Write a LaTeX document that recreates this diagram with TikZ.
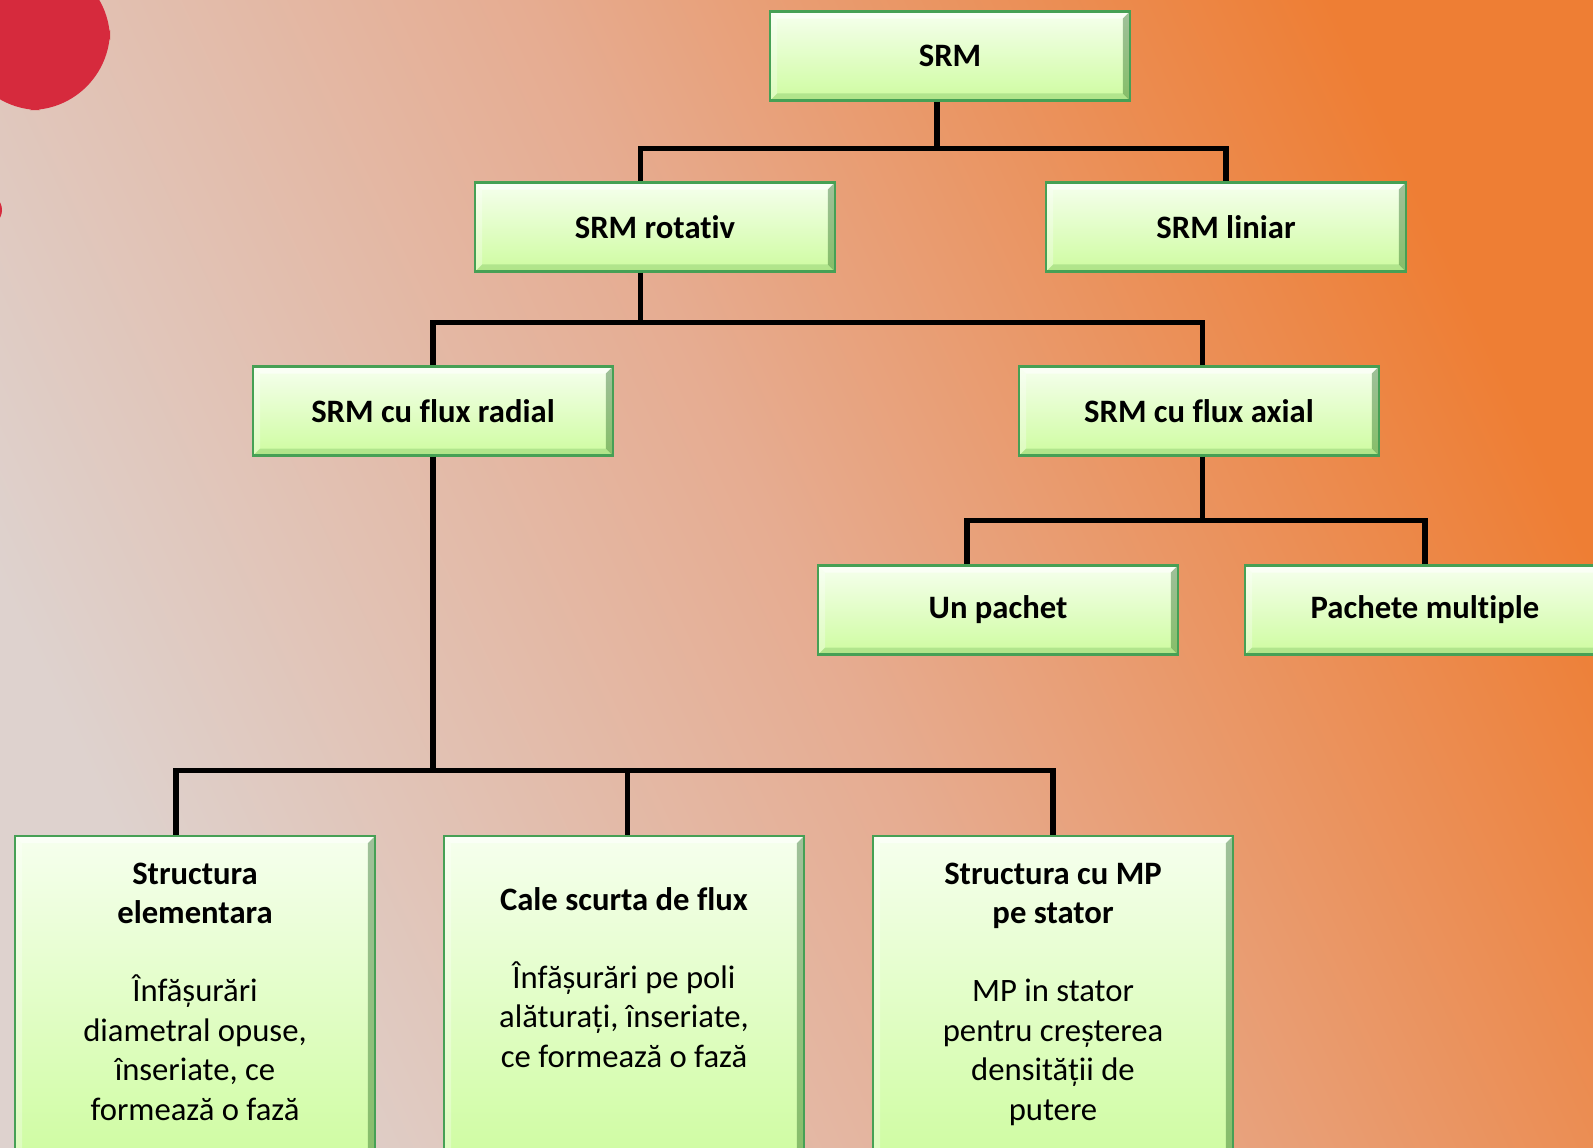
\documentclass[tikz,border=0pt]{standalone}
\usepackage{fontspec}
\setmainfont{Carlito}[Ligatures=NoCommon]

\definecolor{boxtop}{RGB}{246,255,238}
\definecolor{boxbot}{RGB}{206,252,160}
\definecolor{boxline}{RGB}{70,160,85}
\definecolor{bgleft}{RGB}{222,210,206}
\definecolor{bgmid}{RGB}{230,172,145}
\definecolor{bgright}{RGB}{238,126,52}
\definecolor{dotred}{RGB}{214,42,61}

\pgfdeclarehorizontalshading{slide}{100bp}{color(0bp)=(bgleft); color(25bp)=(bgleft);
  color(50bp)=(bgmid); color(75bp)=(bgright); color(100bp)=(bgright)}

\begin{document}
\begin{tikzpicture}[x=0.02cm,y=-0.02cm,
  box/.style={draw=boxline,line width=1.2pt,top color=boxtop,bottom color=boxbot,
    minimum width=7.2cm,minimum height=1.78cm,inner sep=0pt,
    font=\fontsize{18.6}{22.4}\selectfont\bfseries,
    path picture={
      \fill[white,opacity=.55] (path picture bounding box.north west) -- (path picture bounding box.north east)
        -- ([shift={(-7,7)}]path picture bounding box.north east) -- ([shift={(7,7)}]path picture bounding box.north west) -- cycle;
      \fill[white,opacity=.3] (path picture bounding box.north west) -- (path picture bounding box.south west)
        -- ([shift={(7,-7)}]path picture bounding box.south west) -- ([shift={(7,7)}]path picture bounding box.north west) -- cycle;
      \fill[black!70!green,opacity=.35] (path picture bounding box.north east) -- (path picture bounding box.south east)
        -- ([shift={(-7,-7)}]path picture bounding box.south east) -- ([shift={(-7,7)}]path picture bounding box.north east) -- cycle;
      \fill[green!40!black,opacity=.15] (path picture bounding box.south west) -- (path picture bounding box.south east)
        -- ([shift={(-7,-7)}]path picture bounding box.south east) -- ([shift={(7,-7)}]path picture bounding box.south west) -- cycle;
    }},
  tall/.style={box,minimum height=6.6cm},
  body/.style={align=center,inner sep=0pt,anchor=base,
    font=\fontsize{18.6}{22.4}\selectfont},
  link/.style={line width=2.9pt}]
\useasboundingbox (0,0) rectangle (1593,1147);
\clip (0,0) rectangle (1593,1147);
\fill[shading=slide,shading angle=25] (0,0) rectangle (1593,1147);
\fill[dotred,rounded corners=1.6cm] (-40,-40) rectangle (110,110);
\fill[dotred] (-14,210) circle (16);

\node[box] (srm) at (950,56) {SRM};
\node[box] (rot) at (655,227) {SRM rotativ};
\node[box] (lin) at (1226,227) {SRM liniar};
\node[box] (rad) at (433,411) {SRM cu flux radial};
\node[box] (ax) at (1199,411) {SRM cu flux axial};
\node[box] (one) at (998,610) {Un pachet};
\node[box] (multi) at (1425,610) {Pachete multiple};
\node[tall] (elem) at (195,1001) {};
\node[tall] (short) at (624,1001) {};
\node[tall] (pm) at (1053,1001) {};
\node[body] (elemtxt) at (195,1120) {\textbf{Structura}\\\textbf{elementara}\\[22pt]Înfășurări\\diametral opuse,\\înseriate, ce\\formează o fază};
\node[body] (shorttxt) at (624,1067) {\textbf{Cale scurta de flux}\\[22pt]Înfășurări pe poli\\alăturați, înseriate,\\ce formează o fază};
\node[body] (pmtxt) at (1053,1120) {\textbf{Structura cu MP}\\\textbf{pe stator}\\[22pt]MP in stator\\pentru creșterea\\densității de\\putere};

\draw[link] ([xshift=-0.26cm]srm.south) -- ++(0,47) coordinate (j1) -| ([xshift=-0.29cm]rot.north);
\draw[link] (j1) -| (lin.north);
\draw[link] ([xshift=-0.29cm]rot.south) -- ++(0,50) coordinate (j2) -| (rad.north);
\draw[link] (j2) -| ([xshift=0.07cm]ax.north);
\draw[link] ([xshift=0.07cm]ax.south) -- ++(0,64) coordinate (j3) -| ([xshift=-0.62cm]one.north);
\draw[link] (j3) -| (multi.north);
\draw[link] (rad.south) -- ++(0,314) coordinate (j4) -| ([xshift=-0.38cm]elem.north);
\draw[link] (j4) -| ([xshift=0.07cm]short.north);
\draw[link] (j4) -| (pm.north);
\end{tikzpicture}
\end{document}
